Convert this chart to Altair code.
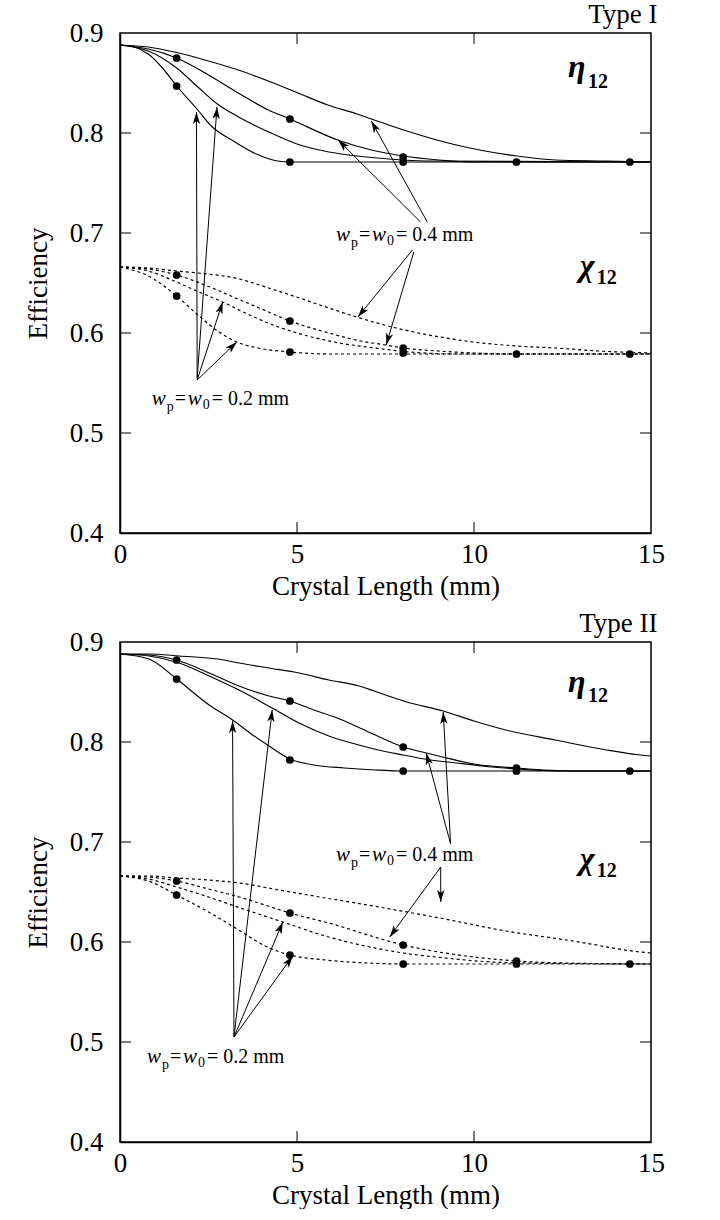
import math
import altair as alt
import pandas as pd

W, H = 531, 500
XMAX = 15.0
YMIN, YMAX = 0.4, 0.9
FONT = "Liberation Serif"

# ---------------- Type I : eta_12 (solid) ----------------
t1_eta_A_x = [0, 0.4, 0.8, 1.2, 1.6, 2.2, 2.55, 3.25, 3.85, 4.45, 4.8, 15]
t1_eta_A_y = [0.888, 0.886, 0.879, 0.865, 0.847, 0.823, 0.808, 0.791, 0.779, 0.772, 0.771, 0.771]
t1_eta_B_x = [0, 0.8, 1.6, 2.5, 3.34, 4.19, 4.8, 6.15, 7.1, 8.0, 9.0, 10.0, 15]
t1_eta_B_y = [0.888, 0.884, 0.875, 0.858, 0.840, 0.823, 0.814, 0.793, 0.783, 0.777, 0.773, 0.771, 0.771]
t1_eta_C_x = [0, 0.8, 1.6, 2.2, 2.75, 3.35, 4.2, 5.0, 5.9, 6.7, 7.6, 8.6, 15]
t1_eta_C_y = [0.888, 0.882, 0.865, 0.846, 0.829, 0.816, 0.801, 0.789, 0.781, 0.777, 0.774, 0.772, 0.771]
t1_eta_D_x = [0, 0.8, 1.66, 2.5, 3.34, 4.19, 5.03, 5.87, 6.7, 7.1, 8.1, 9.5, 11.2, 12.3, 13.75, 15]
t1_eta_D_y = [0.888, 0.886, 0.880, 0.872, 0.863, 0.852, 0.840, 0.828, 0.819, 0.814, 0.802, 0.788, 0.777, 0.773, 0.772, 0.771]

# ---------------- Type I : chi_12 (dotted) ----------------
t1_chi_A_x = [0, 0.8, 1.6, 2.2, 2.8, 3.3, 3.9, 4.8, 6.0, 15]
t1_chi_A_y = [0.666, 0.657, 0.637, 0.618, 0.601, 0.591, 0.585, 0.581, 0.579, 0.579]
t1_chi_B_x = [0, 0.8, 1.6, 2.4, 3.2, 4.0, 4.8, 5.8, 6.8, 7.5, 8.0, 9.0, 10.0, 11.2, 15]
t1_chi_B_y = [0.666, 0.664, 0.658, 0.648, 0.636, 0.624, 0.612, 0.601, 0.592, 0.588, 0.585, 0.582, 0.580, 0.579, 0.579]
t1_chi_C_x = [0, 0.8, 1.6, 2.3, 2.9, 3.6, 4.4, 5.2, 6.2, 7.2, 8.2, 9.5, 15]
t1_chi_C_y = [0.666, 0.662, 0.651, 0.640, 0.631, 0.619, 0.607, 0.598, 0.590, 0.585, 0.581, 0.579, 0.579]
t1_chi_D_x = [0, 0.8, 1.6, 2.2, 3.37, 4.2, 5.07, 5.9, 6.68, 7.8, 9.03, 9.98, 11.2, 12.3, 13.5, 15]
t1_chi_D_y = [0.666, 0.665, 0.662, 0.660, 0.654, 0.645, 0.635, 0.625, 0.616, 0.605, 0.596, 0.591, 0.587, 0.585, 0.582, 0.580]

t1_dot_x = [1.6, 1.6, 4.8, 4.8, 8.0, 8.0, 11.2, 14.4, 1.6, 1.6, 4.8, 4.8, 8.0, 8.0, 11.2, 14.4]
t1_dot_y = [0.875, 0.847, 0.814, 0.771, 0.776, 0.771, 0.771, 0.771,
            0.658, 0.637, 0.612, 0.581, 0.585, 0.580, 0.579, 0.579]

# ---------------- Type II : eta_12 (solid) ----------------
t2_eta_A_x = [0, 0.82, 1.6, 2.52, 3.18, 3.79, 4.21, 4.8, 5.48, 6.33, 7.2, 8.0, 15]
t2_eta_A_y = [0.888, 0.883, 0.863, 0.837, 0.822, 0.806, 0.796, 0.783, 0.777, 0.774, 0.772, 0.771, 0.771]
t2_eta_B_x = [0, 0.82, 1.6, 2.52, 3.36, 4.21, 4.8, 5.48, 6.2, 7.15, 8.0, 8.65, 9.0, 10.0, 11.2, 12.8, 15]
t2_eta_B_y = [0.888, 0.887, 0.882, 0.869, 0.856, 0.846, 0.841, 0.832, 0.823, 0.808, 0.795, 0.789, 0.786, 0.778, 0.774, 0.771, 0.771]
t2_eta_C_x = [0, 0.82, 1.67, 2.52, 3.36, 4.3, 5.06, 5.9, 6.75, 7.18, 8.0, 8.6, 9.5, 10.5, 11.2, 12.5, 15]
t2_eta_C_y = [0.888, 0.886, 0.879, 0.866, 0.852, 0.834, 0.819, 0.806, 0.797, 0.793, 0.787, 0.783, 0.779, 0.775, 0.773, 0.771, 0.771]
t2_eta_D_x = [0, 0.82, 1.67, 2.94, 3.36, 4.2, 5.06, 5.9, 6.75, 7.18, 8.1, 9.13, 10.0, 10.9, 12.3, 13.75, 14.7, 15]
t2_eta_D_y = [0.888, 0.888, 0.886, 0.882, 0.879, 0.874, 0.869, 0.862, 0.856, 0.851, 0.840, 0.831, 0.821, 0.812, 0.802, 0.792, 0.787, 0.786]

# ---------------- Type II : chi_12 (dotted) ----------------
t2_chi_A_x = [0, 0.8, 1.6, 2.5, 3.4, 4.1, 4.8, 5.8, 7.0, 8.0, 15]
t2_chi_A_y = [0.666, 0.661, 0.647, 0.630, 0.611, 0.596, 0.587, 0.582, 0.579, 0.578, 0.578]
t2_chi_B_x = [0, 0.8, 1.6, 2.5, 3.37, 4.8, 6.2, 7.0, 8.0, 9.0, 10.0, 11.2, 12.5, 15]
t2_chi_B_y = [0.666, 0.665, 0.661, 0.653, 0.645, 0.629, 0.616, 0.607, 0.597, 0.590, 0.585, 0.581, 0.579, 0.578]
t2_chi_C_x = [0, 0.8, 1.6, 2.5, 3.4, 4.6, 5.7, 6.8, 8.0, 9.2, 10.5, 11.5, 15]
t2_chi_C_y = [0.666, 0.663, 0.655, 0.645, 0.634, 0.620, 0.607, 0.597, 0.589, 0.584, 0.580, 0.579, 0.578]
t2_chi_D_x = [0, 0.8, 1.6, 2.5, 3.37, 4.5, 5.64, 7.15, 9.03, 10.9, 12.8, 14.7, 15]
t2_chi_D_y = [0.666, 0.666, 0.664, 0.662, 0.659, 0.652, 0.645, 0.636, 0.624, 0.611, 0.601, 0.590, 0.589]

t2_dot_x = [1.6, 1.6, 4.8, 4.8, 8.0, 8.0, 11.2, 11.2, 14.4, 1.6, 1.6, 4.8, 4.8, 8.0, 8.0, 11.2, 11.2, 14.4]
t2_dot_y = [0.882, 0.863, 0.841, 0.782, 0.795, 0.771, 0.774, 0.771, 0.771,
            0.661, 0.647, 0.629, 0.587, 0.597, 0.578, 0.581, 0.578, 0.578]

# ---------------- annotation arrows (tail -> head) ----------------
t1_arr_x0 = [8.49, 8.68, 8.26, 8.30, 2.18, 2.18, 2.18, 2.18]
t1_arr_y0 = [0.711, 0.711, 0.683, 0.681, 0.555, 0.555, 0.553, 0.553]
t1_arr_x1 = [6.16, 7.10, 6.72, 7.52, 2.16, 2.74, 2.90, 3.30]
t1_arr_y1 = [0.793, 0.812, 0.616, 0.588, 0.821, 0.826, 0.631, 0.591]

t2_arr_x0 = [9.34, 9.34, 9.06, 9.06, 3.22, 3.22, 3.22, 3.22]
t2_arr_y0 = [0.698, 0.698, 0.675, 0.675, 0.505, 0.505, 0.505, 0.505]
t2_arr_x1 = [8.65, 9.13, 7.62, 9.06, 3.18, 4.30, 4.60, 4.88]
t2_arr_y1 = [0.789, 0.830, 0.605, 0.640, 0.821, 0.832, 0.620, 0.586]

# ---------------- width labels (left x, centre y, tail text) ----------------
t1_lab_x = [6.10, 0.895]
t1_lab_y = [0.698, 0.534]
t2_lab_x = [6.10, 0.76]
t2_lab_y = [0.687, 0.485]
lab_tail = ["= 0.4 mm", "= 0.2 mm"]

# Greek labels: (x, y) of eta / chi and of the "12" subscript
t1_greek_x = [12.9, 13.2]
t1_greek_y = [0.866, 0.667]
t1_sub_x = [13.5, 13.75]
t1_sub_y = [0.851, 0.655]
t2_greek_x = [12.9, 13.2]
t2_greek_y = [0.860, 0.683]
t2_sub_x = [13.5, 13.75]
t2_sub_y = [0.846, 0.671]
greek_txt = ["η", "χ"]

xtick_vals = [5, 10]
ytick_vals = [0.5, 0.6, 0.7, 0.8]

ARROW = "M0,0L0.55,1.8L0,1.35L-0.55,1.8Z"

xs = alt.Scale(domain=[0, XMAX], nice=False, zero=False)
ys = alt.Scale(domain=[YMIN, YMAX], nice=False, zero=False)


def curves_df(curves):
    rows = []
    for name, cx, cy in curves:
        for i, (a, b) in enumerate(zip(cx, cy)):
            rows.append({"curve": name, "x": a, "y": b, "o": i})
    return pd.DataFrame(rows)


def panel(title, title_dx, solid, dotted, dx_, dy_, ax0, ay0, ax1, ay1,
          lx, ly, gx, gy, sx, sy):
    xaxis = alt.Axis(values=[0, 5, 10, 15], format="d", title="Crystal Length (mm)",
                     ticks=False, tickSize=0, grid=False, labelFlush=False,
                     labelOverlap=False, labelPadding=8, titlePadding=6,
                     labelFont=FONT, labelFontSize=27, labelColor="black",
                     titleFont=FONT, titleFontSize=27, titleFontWeight="normal",
                     titleColor="black", domainColor="black", domainWidth=1.5)
    yaxis = alt.Axis(values=[0.4, 0.5, 0.6, 0.7, 0.8, 0.9], format=".1f", title="Efficiency",
                     ticks=False, tickSize=0, grid=False, labelFlush=False,
                     labelOverlap=False, labelPadding=17, titlePadding=17,
                     labelFont=FONT, labelFontSize=27, labelColor="black",
                     titleFont=FONT, titleFontSize=27, titleFontWeight="normal",
                     titleColor="black", domainColor="black", domainWidth=1.5)
    X = alt.X("x:Q", scale=xs, axis=xaxis)
    Y = alt.Y("y:Q", scale=ys, axis=yaxis)

    sol = alt.Chart(curves_df(solid)).mark_line(
        color="black", strokeWidth=1.15, interpolate="monotone"
    ).encode(x=X, y=Y, detail="curve:N", order="o:Q")
    dot = alt.Chart(curves_df(dotted)).mark_line(
        color="black", strokeWidth=1.2, strokeDash=[3, 3], interpolate="monotone"
    ).encode(x="x:Q", y="y:Q", detail="curve:N", order="o:Q")
    pts = alt.Chart(pd.DataFrame({"x": dx_, "y": dy_})).mark_circle(
        color="black", size=60, opacity=1
    ).encode(x="x:Q", y="y:Q")

    ang = []
    for a, b, c, d in zip(ax0, ay0, ax1, ay1):
        px = (c - a) * W / XMAX
        py = -(d - b) * H / (YMAX - YMIN)
        ang.append(math.degrees(math.atan2(px, -py)) % 360)
    adf = pd.DataFrame({"x": ax0, "y": ay0, "x2": ax1, "y2": ay1, "ang": ang})
    shafts = alt.Chart(adf).mark_rule(color="black", strokeWidth=1).encode(
        x="x:Q", y="y:Q", x2="x2:Q", y2="y2:Q")
    heads = alt.Chart(adf).mark_point(
        shape=ARROW, filled=True, color="black", size=175, opacity=1, strokeWidth=0
    ).encode(x="x2:Q", y="y2:Q", angle=alt.Angle("ang:Q", scale=None))

    ldf = pd.DataFrame({"x": lx, "y": ly, "tail": lab_tail})

    def piece(text, dx, dy, size, style="normal", field=False):
        m = alt.Chart(ldf).mark_text(
            align="left", baseline="middle", font=FONT, fontSize=size,
            fontStyle=style, dx=dx, dy=dy, color="black")
        enc = {"x": "x:Q", "y": "y:Q"}
        if field:
            enc["text"] = "tail:N"
        else:
            enc["text"] = alt.value(text)
        return m.encode(**enc)

    labels = [
        piece("w", 0, 0, 21, "italic"),
        piece("p", 15, 8, 14),
        piece("=", 23, 0, 20),
        piece("w", 36, 0, 21, "italic"),
        piece("0", 51, 6, 14),
        piece("", 60, 0, 20, field=True),
    ]

    gdf = pd.DataFrame({"x": gx, "y": gy, "t": greek_txt})
    greek = alt.Chart(gdf).mark_text(
        font=FONT, fontSize=32, fontStyle="italic", fontWeight="bold",
        align="center", baseline="middle", color="black"
    ).encode(x="x:Q", y="y:Q", text="t:N")
    sdf = pd.DataFrame({"x": sx, "y": sy})
    subs = alt.Chart(sdf).mark_text(
        font=FONT, fontSize=20, fontWeight="bold", align="center",
        baseline="middle", color="black"
    ).encode(x="x:Q", y="y:Q", text=alt.value("12"))

    xt = pd.DataFrame({"v": xtick_vals})
    yt = pd.DataFrame({"v": ytick_vals})
    tb = alt.Chart(xt).mark_rule(color="black", strokeWidth=1).encode(
        x="v:Q", y=alt.value(H - 11), y2=alt.value(H))
    tt = alt.Chart(xt).mark_rule(color="black", strokeWidth=1).encode(
        x="v:Q", y=alt.value(0), y2=alt.value(11))
    tl = alt.Chart(yt).mark_rule(color="black", strokeWidth=1).encode(
        y="v:Q", x=alt.value(0), x2=alt.value(11))
    tr = alt.Chart(yt).mark_rule(color="black", strokeWidth=1).encode(
        y="v:Q", x=alt.value(W - 11), x2=alt.value(W))

    return alt.layer(sol, dot, pts, shafts, heads, *labels, greek, subs,
                     tb, tt, tl, tr).properties(
        width=W, height=H,
        title=alt.TitleParams(text=title, anchor="end", font=FONT, fontSize=27,
                              fontWeight="normal", color="black", offset=-10,
                              dx=title_dx))


top = panel("Type I", -7,
            [("A", t1_eta_A_x, t1_eta_A_y), ("B", t1_eta_B_x, t1_eta_B_y),
             ("C", t1_eta_C_x, t1_eta_C_y), ("D", t1_eta_D_x, t1_eta_D_y)],
            [("A", t1_chi_A_x, t1_chi_A_y), ("B", t1_chi_B_x, t1_chi_B_y),
             ("C", t1_chi_C_x, t1_chi_C_y), ("D", t1_chi_D_x, t1_chi_D_y)],
            t1_dot_x, t1_dot_y, t1_arr_x0, t1_arr_y0, t1_arr_x1, t1_arr_y1,
            t1_lab_x, t1_lab_y, t1_greek_x, t1_greek_y, t1_sub_x, t1_sub_y)

bottom = panel("Type II", -7,
               [("A", t2_eta_A_x, t2_eta_A_y), ("B", t2_eta_B_x, t2_eta_B_y),
                ("C", t2_eta_C_x, t2_eta_C_y), ("D", t2_eta_D_x, t2_eta_D_y)],
               [("A", t2_chi_A_x, t2_chi_A_y), ("B", t2_chi_B_x, t2_chi_B_y),
                ("C", t2_chi_C_x, t2_chi_C_y), ("D", t2_chi_D_x, t2_chi_D_y)],
               t2_dot_x, t2_dot_y, t2_arr_x0, t2_arr_y0, t2_arr_x1, t2_arr_y1,
               t2_lab_x, t2_lab_y, t2_greek_x, t2_greek_y, t2_sub_x, t2_sub_y)

chart = alt.vconcat(top, bottom, spacing=9).properties(
    padding={"left": 23, "top": 0, "right": 5, "bottom": 0},
    background="white"
).configure_view(stroke="black", strokeWidth=1.5)

chart.save("out.html", embed_options={"renderer": "svg", "actions": False})
